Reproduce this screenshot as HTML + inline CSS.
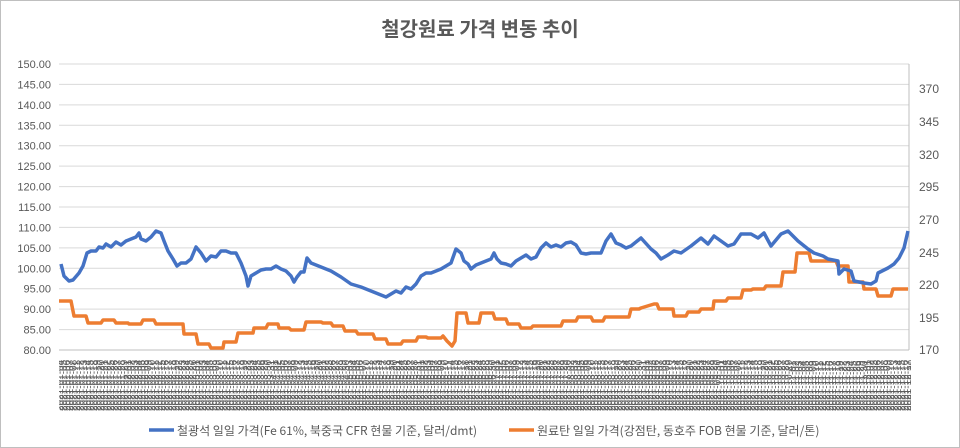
<!DOCTYPE html>
<html><head><meta charset="utf-8"><style>
body{margin:0;background:#fff;}
#c{position:relative;width:958px;height:446px;border:1px solid #bfbfbf;font-family:"Liberation Sans","Noto Sans CJK KR",sans-serif;overflow:hidden;background:#fff}
#t{position:absolute;top:12px;left:0;width:958px;text-align:center;font-size:20px;font-weight:bold;color:#595959;font-family:"Noto Sans CJK KR",sans-serif}
#d{position:absolute;left:58px;top:354px;width:852px;height:56px;writing-mode:vertical-rl;transform:rotate(180deg);font-size:10px;line-height:3.4px;color:#595959;overflow:hidden;word-spacing:0}
.lg{position:absolute;top:421px;font-size:12px;color:#595959;font-family:"Noto Sans CJK KR",sans-serif;white-space:nowrap}
</style></head><body><div id="c">
<div id="t">철강원료 가격 변동 추이</div>
<svg width="958" height="446" style="position:absolute;left:0;top:0">
<g stroke="#d9d9d9" stroke-width="1">
<line x1="58" x2="908" y1="63" y2="63"/><line x1="58" x2="908" y1="83.4" y2="83.4"/><line x1="58" x2="908" y1="103.9" y2="103.9"/><line x1="58" x2="908" y1="124.3" y2="124.3"/><line x1="58" x2="908" y1="144.7" y2="144.7"/><line x1="58" x2="908" y1="165.1" y2="165.1"/><line x1="58" x2="908" y1="185.6" y2="185.6"/><line x1="58" x2="908" y1="206" y2="206"/><line x1="58" x2="908" y1="226.4" y2="226.4"/><line x1="58" x2="908" y1="246.9" y2="246.9"/><line x1="58" x2="908" y1="267.3" y2="267.3"/><line x1="58" x2="908" y1="287.7" y2="287.7"/><line x1="58" x2="908" y1="308.1" y2="308.1"/><line x1="58" x2="908" y1="328.6" y2="328.6"/>
<line x1="58" x2="908" y1="349" y2="349" stroke="#bfbfbf"/>
<line x1="908" x2="908" y1="63" y2="349" stroke="#bfbfbf"/>
</g>
<g font-size="11" fill="#595959" text-anchor="end">
<text x="50" y="67">150.00</text><text x="50" y="87.4">145.00</text><text x="50" y="107.9">140.00</text><text x="50" y="128.3">135.00</text><text x="50" y="148.7">130.00</text><text x="50" y="169.1">125.00</text><text x="50" y="189.6">120.00</text><text x="50" y="210">115.00</text><text x="50" y="230.4">110.00</text><text x="50" y="250.9">105.00</text><text x="50" y="271.3">100.00</text><text x="50" y="291.7">95.00</text><text x="50" y="312.1">90.00</text><text x="50" y="332.6">85.00</text><text x="50" y="353">80.00</text>
</g>
<g font-size="12" fill="#595959">
<text x="918" y="92">370</text><text x="918" y="125">345</text><text x="918" y="158">320</text><text x="918" y="190">295</text><text x="918" y="223">270</text><text x="918" y="256">245</text><text x="918" y="288">220</text><text x="918" y="321">195</text><text x="918" y="353">170</text>
</g>
<polyline fill="none" stroke="#ED7D31" stroke-width="3.5" stroke-linejoin="round" points="58,300 70,300 73,315 85,315 87,322 100,322 102,319 113,319 115,322 127,322 128,323 140,323 142,319 153,319 155,323 182,323 183,333 195,333 197,343 208,343 210,347 222,347 223,341 235,341 237,332 252,332 253,327 265,327 267,323 277,323 278,327 288,327 290,329 303,329 305,321 320,321 322,322 330,322 332,325 342,325 344,330 355,330 357,333 372,333 374,338 385,338 387,343 400,343 402,340 415,340 417,336 425,336 427,337 440,337 442,335 446,340 451,345 454,340 456,312 465,312 467,322 478,322 480,312 492,312 494,318 505,318 507,323 518,323 520,327 530,327 532,325 560,325 562,320 575,320 577,316 590,316 592,320 602,320 604,316 628,316 630,308 638,308 640,307 653,303 656,303 658,308 672,308 673,315 685,315 687,311 698,311 700,308 712,308 713,300 725,300 727,297 740,297 742,289 750,289 752,288 763,288 765,285 780,285 782,271 794,271 796,252 808,252 810,260 835,260 837,265 847,265 848,281 862,281 863,288 875,288 877,295 890,295 892,288 907,288"/>
<polyline fill="none" stroke="#4472C4" stroke-width="3.5" stroke-linejoin="round" points="60,263 63,275 68,280 72,279 78,272 82,265 86,252 90,250 95,250 98,246 102,247 105,243 110,246 115,241 120,244 125,240 130,238 135,236 138,232 140,238 145,240 150,236 155,230 160,232 163,240 167,250 172,258 176,265 180,262 185,262 190,258 195,246 200,252 205,260 210,255 215,256 220,250 225,250 230,252 235,252 240,262 245,275 247,285 250,275 255,272 260,269 265,268 270,268 275,265 280,268 285,270 290,275 293,281 296,276 300,271 303,271 306,257 310,262 320,266 330,270 340,276 350,283 360,286 370,290 380,294 385,296 395,290 400,292 405,286 410,288 415,283 420,275 425,272 430,272 440,268 450,262 455,248 460,252 463,260 467,263 470,268 475,264 480,262 485,260 490,258 493,252 496,258 500,262 505,263 510,265 515,260 520,257 525,254 530,258 535,256 540,247 545,242 550,246 555,244 560,246 565,242 570,241 575,244 580,252 585,253 590,252 600,252 605,240 610,233 615,242 620,244 625,247 630,245 640,237 650,248 655,252 660,258 667,254 673,250 680,252 690,245 700,237 707,243 713,235 720,240 727,245 733,243 740,233 750,233 757,237 763,232 770,245 780,233 787,230 797,240 807,248 813,252 822,255 827,258 837,260 838,273 843,268 850,270 853,280 863,282 870,283 875,280 877,272 887,267 893,263 898,257 903,247 907,230"/>
<line x1="148" x2="173" y1="429" y2="429" stroke="#4472C4" stroke-width="3.5"/>
<line x1="508" x2="533" y1="429" y2="429" stroke="#ED7D31" stroke-width="3.5"/>
</svg>
<div id="d">2021-01-04 2021-01-05 2021-01-06 2021-01-07 2021-01-08 2021-01-11 2021-01-12 2021-01-13 2021-01-14 2021-01-15 2021-01-18 2021-01-19 2021-01-20 2021-01-21 2021-01-22 2021-01-25 2021-01-26 2021-01-27 2021-01-28 2021-01-29 2021-02-01 2021-02-02 2021-02-03 2021-02-04 2021-02-05 2021-02-08 2021-02-09 2021-02-10 2021-02-11 2021-02-12 2021-02-15 2021-02-16 2021-02-17 2021-02-18 2021-02-19 2021-02-22 2021-02-23 2021-02-24 2021-02-25 2021-02-26 2021-03-01 2021-03-02 2021-03-03 2021-03-04 2021-03-05 2021-03-08 2021-03-09 2021-03-10 2021-03-11 2021-03-12 2021-03-15 2021-03-16 2021-03-17 2021-03-18 2021-03-19 2021-03-22 2021-03-23 2021-03-24 2021-03-25 2021-03-26 2021-03-29 2021-03-30 2021-03-31 2021-04-01 2021-04-02 2021-04-05 2021-04-06 2021-04-07 2021-04-08 2021-04-09 2021-04-12 2021-04-13 2021-04-14 2021-04-15 2021-04-16 2021-04-19 2021-04-20 2021-04-21 2021-04-22 2021-04-23 2021-04-26 2021-04-27 2021-04-28 2021-04-29 2021-04-30 2021-05-03 2021-05-04 2021-05-05 2021-05-06 2021-05-07 2021-05-10 2021-05-11 2021-05-12 2021-05-13 2021-05-14 2021-05-17 2021-05-18 2021-05-19 2021-05-20 2021-05-21 2021-05-24 2021-05-25 2021-05-26 2021-05-27 2021-05-28 2021-05-31 2021-06-01 2021-06-02 2021-06-03 2021-06-04 2021-06-07 2021-06-08 2021-06-09 2021-06-10 2021-06-11 2021-06-14 2021-06-15 2021-06-16 2021-06-17 2021-06-18 2021-06-21 2021-06-22 2021-06-23 2021-06-24 2021-06-25 2021-06-28 2021-06-29 2021-06-30 2021-07-01 2021-07-02 2021-07-05 2021-07-06 2021-07-07 2021-07-08 2021-07-09 2021-07-12 2021-07-13 2021-07-14 2021-07-15 2021-07-16 2021-07-19 2021-07-20 2021-07-21 2021-07-22 2021-07-23 2021-07-26 2021-07-27 2021-07-28 2021-07-29 2021-07-30 2021-08-02 2021-08-03 2021-08-04 2021-08-05 2021-08-06 2021-08-09 2021-08-10 2021-08-11 2021-08-12 2021-08-13 2021-08-16 2021-08-17 2021-08-18 2021-08-19 2021-08-20 2021-08-23 2021-08-24 2021-08-25 2021-08-26 2021-08-27 2021-08-30 2021-08-31 2021-09-01 2021-09-02 2021-09-03 2021-09-06 2021-09-07 2021-09-08 2021-09-09 2021-09-10 2021-09-13 2021-09-14 2021-09-15 2021-09-16 2021-09-17 2021-09-20 2021-09-21 2021-09-22 2021-09-23 2021-09-24 2021-09-27 2021-09-28 2021-09-29 2021-09-30 2021-10-01 2021-10-04 2021-10-05 2021-10-06 2021-10-07 2021-10-08 2021-10-11 2021-10-12 2021-10-13 2021-10-14 2021-10-15 2021-10-18 2021-10-19 2021-10-20 2021-10-21 2021-10-22 2021-10-25 2021-10-26 2021-10-27 2021-10-28 2021-10-29 2021-11-01 2021-11-02 2021-11-03 2021-11-04 2021-11-05 2021-11-08 2021-11-09 2021-11-10 2021-11-11 2021-11-12 2021-11-15 2021-11-16 2021-11-17 2021-11-18 2021-11-19 2021-11-22 2021-11-23 2021-11-24 2021-11-25 2021-11-26 2021-11-29 2021-11-30 2021-12-01 2021-12-02 2021-12-03 2021-12-06 2021-12-07 2021-12-08 2021-12-09 2021-12-10 2021-12-13 2021-12-14 2021-12-15 2021-12-16 2021-12-17 2021-12-20 2021-12-21 2021-12-22 2021-12-23 2021-12-24 2021-12-27 2021-12-28 2021-12-29 2021-12-30</div>
<div class="lg" style="left:176px">철광석 일일 가격(Fe 61%, 북중국 CFR 현물 기준, 달러/dmt)</div>
<div class="lg" style="left:536px">원료탄 일일 가격(강점탄, 동호주 FOB 현물 기준, 달러/톤)</div>
</div></body></html>
